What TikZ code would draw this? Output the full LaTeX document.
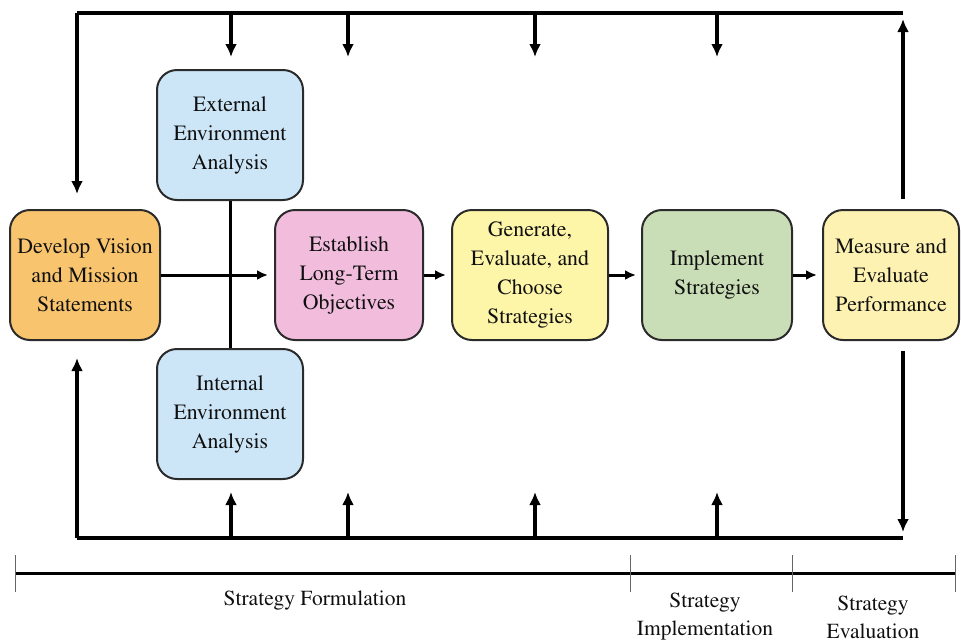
\documentclass[tikz,border=0pt]{standalone}
\usepackage[T1]{fontenc}
\usepackage{times}
\usetikzlibrary{arrows.meta,calc}

\definecolor{orangefill}{HTML}{F8C56E}
\definecolor{bluefill}{HTML}{CDE6F7}
\definecolor{pinkfill}{HTML}{F2BCDD}
\definecolor{yellowfill}{HTML}{FDF5A8}
\definecolor{greenfill}{HTML}{C9DDB6}
\definecolor{paleyellow}{HTML}{FDF2B2}
\definecolor{edge}{HTML}{2B2B2B}
\definecolor{ink}{HTML}{101010}

\tikzset{
  stagebox/.style={draw=edge, line width=2pt, rounded corners=20pt,
    minimum height=130pt, align=center, text=ink,
    font=\rmfamily\fontsize{21.8}{29}\selectfont, inner sep=1pt},
  loopline/.style={line width=4pt, line join=miter},
  looparrow/.style={line width=4pt, -{Latex[length=13pt,width=12pt]}},
  flowarrow/.style={line width=3pt, -{Latex[length=11pt,width=10pt]}},
  tick/.style={line width=1pt, draw=black!60},
  phase/.style={align=center, text=ink,
    font=\rmfamily\fontsize{21.5}{28}\selectfont}
}

\begin{document}
\begin{tikzpicture}[x=1pt,y=-1pt]
\useasboundingbox (0,0) rectangle (961,641);

% stage boxes
\node[stagebox, fill=orangefill, minimum width=150pt] (dev) at (85,275)
  {Develop Vision\\and Mission\\Statements};
\node[stagebox, fill=bluefill, minimum width=146pt] (ext) at (230,135)
  {External\\Environment\\Analysis};
\node[stagebox, fill=bluefill, minimum width=146pt] (int) at (230,414)
  {Internal\\Environment\\Analysis};
\node[stagebox, fill=pinkfill, minimum width=148pt] (est) at (349,275)
  {Establish\\Long-Term\\Objectives};
\node[stagebox, fill=yellowfill, minimum width=156pt] (gen) at (530,275)
  {Generate,\\Evaluate, and\\Choose\\Strategies};
\node[stagebox, fill=greenfill, minimum width=150pt] (imp) at (717,275)
  {Implement\\Strategies};
\node[stagebox, fill=paleyellow, minimum width=136pt] (mea) at (891,275)
  {Measure and\\Evaluate\\Performance};

% loop corners
\coordinate (tl) at (77,13);
\coordinate (tr) at (903,13);
\coordinate (bl) at (77,538);
\coordinate (br) at (903,538);

% feedback loop, upper half
\draw[looparrow] (tr |- mea.north) ++(0,-10) -- ($(tr)+(0,6)$);
\draw[loopline] (tr) -- (tl);
\draw[looparrow] (tl) -- ($(tl |- dev.north)+(0,-15)$);
\foreach \x in {231,348,535,717}
  \draw[looparrow] (\x,13) -- (\x,57);

% feedback loop, lower half
\draw[loopline] (bl) -- (br);
\draw[looparrow] (bl) -- ($(bl |- dev.south)+(0,17)$);
\draw[looparrow] ($(br |- mea.south)+(0,10)$) -- ($(br)+(0,-6)$);
\foreach \x in {231,348,535,717}
  \draw[looparrow] (\x,538) -- (\x,492);

% analysis spine and main flow
\draw[line width=3pt] (ext.south) -- (int.north);
\draw[flowarrow] (dev.east) -- ($(est.west)+(-6,0)$);
\draw[flowarrow] (est.east) -- ($(gen.west)+(-5,0)$);
\draw[flowarrow] (gen.east) -- ($(imp.west)+(-5,0)$);
\draw[flowarrow] (imp.east) -- ($(mea.west)+(-5,0)$);

% phase timeline
\coordinate (t0) at (15,573);
\coordinate (t1) at (630,573);
\coordinate (t2) at (792,573);
\coordinate (t3) at (955,573);
\draw[line width=3pt, draw=black] (t0) -- (t3);
\foreach \p in {t0,t1,t2,t3}
  \draw[tick] ($(\p)+(0,-18)$) -- ($(\p)+(0,19)$);

\node[phase] (form) at (315,601) {Strategy Formulation};
\node[phase] (impl) at (705,617) {Strategy\\Implementation};
\node[phase] (eval) at (873,617) {Strategy\\Evaluation};
\end{tikzpicture}
\end{document}
